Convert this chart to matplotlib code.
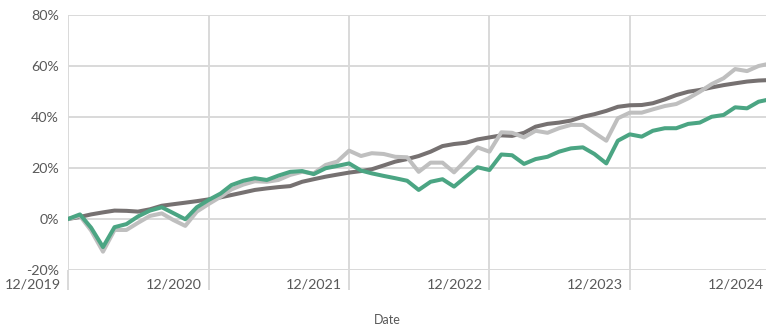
import numpy as np
import pandas as pd
import matplotlib
matplotlib.use("Agg")
import matplotlib.pyplot as plt
from matplotlib.transforms import ScaledTranslation

plt.rcParams['font.family'] = ['Lato', 'DejaVu Sans']

dates = pd.date_range('2019-12-31', periods=61, freq='ME')

# Cumulative returns, %
green_series = [0, 1.8, -3.4, -11, -3.2, -2, 1, 3.3, 4.6, 2.3, -0.1, 4.6, 7.5,
                10, 13.3, 15, 16, 15.3, 17, 18.5, 18.8, 17.6, 19.9, 20.8, 21.8,
                19, 17.9, 16.9, 16, 15, 11.4, 14.6, 15.6, 12.7, 16.6, 20.3, 19.2,
                25.3, 25, 21.6, 23.5, 24.4, 26.4, 27.7, 28.1, 25.5, 21.8, 30.7, 33.2,
                32.3, 34.6, 35.6, 35.6, 37.3, 37.8, 40.1, 40.8, 43.8, 43.4, 46, 47]
light_series = [0, 1.2, -4.5, -12.8, -4.3, -4.3, -1.5, 1.2, 2.2, -0.4, -2.7, 2.9, 5.9,
                8.7, 11.6, 13.5, 14.8, 14.6, 15.3, 17.3, 18.5, 17.9, 21.2, 22.5, 26.8,
                24.7, 25.8, 25.5, 24.4, 24.2, 18.5, 22.1, 22.1, 18.3, 23.1, 28.1, 26.4,
                34, 33.8, 32, 34.6, 33.8, 35.6, 36.9, 36.9, 33.8, 30.7, 39.5, 41.7,
                41.7, 43, 44.3, 45.1, 47.3, 49.9, 52.9, 55.2, 58.8, 58, 60, 61]
dark_series = [0, 0.8, 1.8, 2.6, 3.3, 3.2, 2.9, 3.8, 5.2, 5.8, 6.4, 7, 7.7,
               8.5, 9.4, 10.4, 11.4, 12, 12.5, 12.9, 14.6, 15.6, 16.6, 17.4, 18.2,
               18.8, 19.5, 21, 22.5, 23.5, 24.7, 26.4, 28.6, 29.4, 29.9, 31.2, 32,
               32.8, 32.6, 33.8, 36.2, 37.3, 37.8, 38.6, 40.1, 41.1, 42.4, 44, 44.6,
               44.7, 45.4, 46.9, 48.6, 49.9, 50.6, 51.6, 52.5, 53.2, 53.9, 54.3, 54.5]

x_ticks = pd.to_datetime(['2019-12-31', '2020-12-31', '2021-12-31',
                          '2022-12-31', '2023-12-31', '2024-12-31'])
x_labels = ['12/2019', '12/2020', '12/2021', '12/2022', '12/2023', '12/2024']
y_ticks = [-20, 0, 20, 40, 60, 80]
y_labels = ['-20%', '0%', '20%', '40%', '60%', '80%']

W, H = 766, 329
fig = plt.figure(figsize=(W / 100, H / 100), dpi=100)
ax = fig.add_axes([68 / W, (H - 270) / H, (770.5 - 68) / W, (270 - 15) / H])

grid_c = '#D9D9D9'
text_c = '#595959'

ax.plot(dates, dark_series, color='#767171', lw=2.9, solid_joinstyle='round', zorder=3)
ax.plot(dates, light_series, color='#BFBFBF', lw=2.9, solid_joinstyle='round', zorder=4)
ax.plot(dates, green_series, color='#4BA583', lw=2.9, solid_joinstyle='round', zorder=5)

ax.set_xlim(x_ticks[0], x_ticks[-1])
ax.set_ylim(-20, 80)

ax.set_yticks(y_ticks)
ax.set_yticklabels(y_labels)
ax.set_xticks(x_ticks)
ax.set_xticklabels(x_labels)

ax.grid(True, color=grid_c, lw=1.4)
ax.set_axisbelow(True)
for s in ax.spines.values():
    s.set_visible(False)

ax.tick_params(axis='y', length=0, pad=6.5, labelsize=10.3, labelcolor=text_c)
ax.tick_params(axis='x', length=14.4, width=1.4, color=grid_c, pad=-8,
               labelsize=10.3, labelcolor=text_c)
shift = ScaledTranslation(-7 / 100, 0, fig.dpi_scale_trans)
for lab in ax.get_xticklabels():
    lab.set_horizontalalignment('right')
    lab.set_transform(lab.get_transform() + shift)

fig.text(387 / W, 1 - 320 / H, 'Date', ha='center', va='center',
         fontsize=9, color=text_c)

fig.savefig('out.png', dpi=100)
